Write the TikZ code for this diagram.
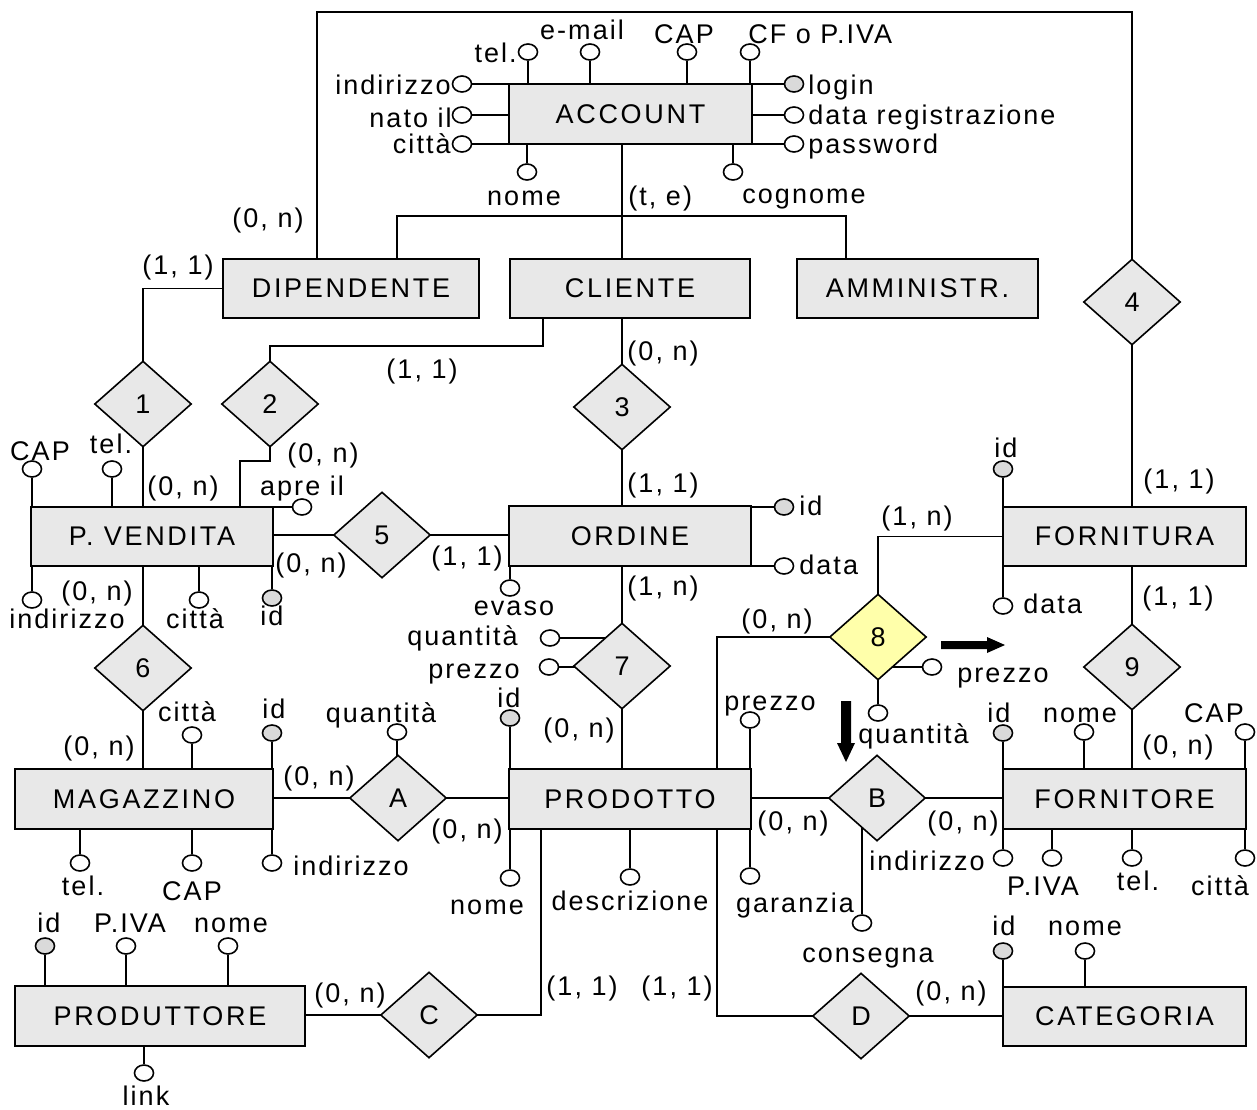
\documentclass[tikz,border=0pt]{standalone}
\usepackage{fontspec}
\setmainfont{Liberation Sans}[LetterSpace=7.5]
\newfontfamily\entfont{Liberation Sans}[LetterSpace=10]
\usetikzlibrary{shapes.geometric,backgrounds}
\definecolor{entgray}{RGB}{232,232,232}
\definecolor{keygray}{RGB}{218,218,218}
\definecolor{relyel}{RGB}{255,255,170}
\tikzset{
 ent/.style={draw,line width=0.9pt,fill=entgray,rectangle,inner sep=0pt,minimum height=30pt,font=\entfont\fontsize{13.5}{16}\selectfont},
 rel/.style={draw,line width=0.8pt,fill=entgray,diamond,inner sep=0pt,minimum width=48.5pt,minimum height=43pt,font=\fontsize{13.5}{16}\selectfont},
 att/.style={draw,line width=0.8pt,fill=white,ellipse,inner sep=0pt,minimum width=9.5pt,minimum height=8pt},
 keyatt/.style={att,fill=keygray},
 lbl/.style={inner sep=0pt,font=\fontsize{13.5}{16}\selectfont},
 conn/.style={line width=0.8pt}
}
\begin{document}
\begin{tikzpicture}[x=0.5pt,y=-0.5pt]
\useasboundingbox (0,0) rectangle (1257,1109);
% ---------- entities
\node[ent,minimum width=121.5pt] (acc) at (630.5,114) {ACCOUNT};
\node[ent,minimum width=128pt,minimum height=29.5pt] (dip) at (351,288.5) {DIPENDENTE};
\node[ent,minimum width=120pt,minimum height=29.5pt] (cli) at (630,288.5) {CLIENTE};
\node[ent,minimum width=120.5pt,minimum height=29.5pt] (amm) at (917.5,288.5) {AMMINISTR.};
\node[ent,minimum width=121pt,minimum height=29.5pt] (pv) at (152,536.5) {P. VENDITA};
\node[ent,minimum width=121pt] (ord) at (630,536) {ORDINE};
\node[ent,minimum width=121.5pt,minimum height=29.5pt] (forn) at (1124.5,536.5) {FORNITURA};
\node[ent,minimum width=129pt] (mag) at (144,799) {MAGAZZINO};
\node[ent,minimum width=121pt] (prod) at (630,799) {PRODOTTO};
\node[ent,minimum width=121.5pt] (fore) at (1124.5,799) {FORNITORE};
\node[ent,minimum width=145pt] (produt) at (160,1016) {PRODUTTORE};
\node[ent,minimum width=121.5pt,minimum height=29.5pt] (cat) at (1124.5,1016.5) {CATEGORIA};
% ---------- relationships
\node[rel] (r1) at (143,404) {1};
\node[rel] (r2) at (270,404) {2};
\node[rel] (r3) at (622,407) {3};
\node[rel] (r4) at (1132,302) {4};
\node[rel] (r5) at (382,535) {5};
\node[rel] (r6) at (143,668) {6};
\node[rel] (r7) at (622,666) {7};
\node[rel,fill=relyel] (r8) at (878,637) {8};
\node[rel] (r9) at (1132,667) {9};
\node[rel] (rA) at (398,798) {A};
\node[rel] (rB) at (877,798) {B};
\node[rel] (rC) at (429,1015) {C};
\node[rel] (rD) at (861,1016) {D};
% ---------- attributes
\node[att] (aTel) at (528,52) {};
\node[att] (aMail) at (590,52) {};
\node[att] (aCap) at (687,52) {};
\node[att] (aCf) at (750,52) {};
\node[att] (aInd) at (462,84) {};
\node[att] (aNato) at (462,115) {};
\node[att] (aCit) at (462,144) {};
\node[keyatt] (aLog) at (794,84) {};
\node[att] (aData) at (794,115) {};
\node[att] (aPwd) at (794,144) {};
\node[att] (aNome) at (527,172) {};
\node[att] (aCogn) at (733,172) {};
\node[att] (pCap) at (32,469) {};
\node[att] (pTel) at (112,469) {};
\node[att] (pApre) at (302,507) {};
\node[att] (pInd) at (32,600) {};
\node[att] (pCit) at (199,600) {};
\node[keyatt] (pId) at (272,598) {};
\node[keyatt] (oId) at (784,507) {};
\node[att] (oData) at (784,566) {};
\node[att] (oEv) at (510,588) {};
\node[att] (q7) at (550,638) {};
\node[att] (p7) at (549,667) {};
\node[att] (p8) at (932,667) {};
\node[att] (q8) at (878,713) {};
\node[att] (qA) at (397,732) {};
\node[att] (cB) at (862,923) {};
\node[keyatt] (dId) at (510,718) {};
\node[att] (dPr) at (750,720) {};
\node[att] (dNome) at (510,878) {};
\node[att] (dDesc) at (630,877) {};
\node[att] (dGar) at (750,876) {};
\node[keyatt] (fId) at (1003,469) {};
\node[att] (fData) at (1003,606) {};
\node[keyatt] (sId) at (1003,733) {};
\node[att] (sNome) at (1084,732) {};
\node[att] (sCap) at (1245,732) {};
\node[att] (sInd) at (1003,858) {};
\node[att] (sPiva) at (1052,858) {};
\node[att] (sTel) at (1132,858) {};
\node[att] (sCit) at (1245,858) {};
\node[att] (mCit) at (192,735) {};
\node[keyatt] (mId) at (272,733) {};
\node[att] (mTel) at (80,863) {};
\node[att] (mCap) at (192,863) {};
\node[att] (mInd) at (272,863) {};
\node[keyatt] (uId) at (45,946) {};
\node[att] (uPiva) at (126,946) {};
\node[att] (uNome) at (228,946) {};
\node[att] (uLink) at (144,1073) {};
\node[keyatt] (cId) at (1003,951) {};
\node[att] (cNome) at (1085,951) {};
% ---------- connectors
\begin{pgfonlayer}{background}
\coordinate (hb) at (622,216);
\coordinate (lt) at (317,12);
\coordinate (k2) at (543,346);
\coordinate (k2b) at (240,461);
\coordinate (x717) at (717,0);
\coordinate (x541) at (541,0);
\coordinate (x397) at (397,0);
\coordinate (x846) at (846,0);
\draw[conn] (acc.center -| hb) -- (cli.center -| hb);
\draw[conn] (dip.center -| x397) |- (hb) -| (amm.center -| x846);
\draw[conn] (dip.center -| lt) -- (lt) -| (r4.center);
\draw[conn] (r4.center) -- (r4.center |- forn.center);
\draw[conn] (dip.center) -| (r1.center);
\draw[conn] (r1.center) -- (r1.center |- pv.center);
\draw[conn] (cli.center -| k2) -- (k2) -| (r2.center);
\draw[conn] (r2.center) |- (k2b) -- (k2b |- pv.center);
\draw[conn] (cli.center -| r3.center) -- (r3.center |- ord.center);
\draw[conn] (r5.center -| pv.center) -- (r5.center -| ord.center);
\draw[conn] (r6.center |- pv.center) -- (r6.center |- mag.center);
\draw[conn] (r7.center |- ord.center) -- (r7.center |- prod.center);
\draw[conn] (r9.center |- forn.center) -- (r9.center |- fore.center);
\draw[conn] (rA.center -| mag.center) -- (rA.center -| prod.center);
\draw[conn] (rB.center -| prod.center) -- (rB.center -| fore.center);
\draw[conn] (r8.center) |- (forn.center);
\draw[conn] (r8.center) -| (prod.center -| x717);
\draw[conn] (prod.center -| x541) |- (rC.center) -- (rC.center -| produt.center);
\draw[conn] (prod.center -| x717) |- (rD.center) -- (rD.center -| cat.center);
\foreach \a/\e in {aInd/acc,aNato/acc,aCit/acc,aLog/acc,aData/acc,aPwd/acc,pApre/pv,oId/ord,oData/ord,q7/r7,p7/r7,p8/r8}
  \draw[conn] (\a) -- (\a -| \e.center);
\foreach \a/\e in {aTel/acc,aMail/acc,aCap/acc,aCf/acc,aNome/acc,aCogn/acc,pCap/pv,pTel/pv,pInd/pv,pCit/pv,pId/pv,oEv/ord,q8/r8,qA/rA,cB/rB,dId/prod,dPr/prod,dNome/prod,dDesc/prod,dGar/prod,fId/forn,fData/forn,sId/fore,sNome/fore,sCap/fore,sInd/fore,sPiva/fore,sTel/fore,sCit/fore,mCit/mag,mId/mag,mTel/mag,mCap/mag,mInd/mag,uId/produt,uPiva/produt,uNome/produt,uLink/produt,cId/cat,cNome/cat}
  \draw[conn] (\a) -- (\a |- \e.center);
\end{pgfonlayer}
% ---------- thick arrows
\fill (941,641) -- (987,641) -- (987,637) -- (1005,645) -- (987,653) -- (987,649) -- (941,649) -- cycle;
\fill (841,701) -- (851,701) -- (851,743) -- (855,743) -- (846,762) -- (837,743) -- (841,743) -- cycle;
% ---------- labels
\node[lbl,anchor=base east] (l1) at (517,62) {tel.};
\node[lbl,anchor=base] (l2) at (582,39) {e-mail};
\node[lbl,anchor=base] (l3) at (684,43) {CAP};
\node[lbl,anchor=base west] (l4) at (748,43) {CF o P.IVA};
\node[lbl,anchor=base east] (l5) at (451,94) {indirizzo};
\node[lbl,anchor=base east] (l6) at (452,127) {nato il};
\node[lbl,anchor=base east] (l7) at (451,153) {città};
\node[lbl,anchor=base west] (l8) at (808,94) {login};
\node[lbl,anchor=base west] (l9) at (808,124) {data registrazione};
\node[lbl,anchor=base west] (l10) at (808,153) {password};
\node[lbl,anchor=base] (l11) at (524,205) {nome};
\node[lbl,anchor=base west] (l12) at (628,205) {(t, e)};
\node[lbl,anchor=base west] (l13) at (742,203) {cognome};
\node[lbl,anchor=base] (l14) at (268,227) {(0, n)};
\node[lbl,anchor=base] (l15) at (178,274) {(1, 1)};
\node[lbl,anchor=base] (l16) at (183,495) {(0, n)};
\node[lbl,anchor=base] (l17) at (323,462) {(0, n)};
\node[lbl,anchor=base] (l18) at (302,495) {apre il};
\node[lbl,anchor=base] (l19) at (422,378) {(1, 1)};
\node[lbl,anchor=base] (l20) at (663,360) {(0, n)};
\node[lbl,anchor=base] (l21) at (663,492) {(1, 1)};
\node[lbl,anchor=base] (l22) at (311,572) {(0, n)};
\node[lbl,anchor=base] (l23) at (467,565) {(1, 1)};
\node[lbl,anchor=base] (l24) at (97,600) {(0, n)};
\node[lbl,anchor=base] (l25) at (67,628) {indirizzo};
\node[lbl,anchor=base] (l26) at (195,628) {città};
\node[lbl,anchor=base] (l27) at (272,625) {id};
\node[lbl,anchor=base] (l28) at (40,460) {CAP};
\node[lbl,anchor=base] (l29) at (111,453) {tel.};
\node[lbl,anchor=base west] (l30) at (799,515) {id};
\node[lbl,anchor=base west] (l31) at (799,574) {data};
\node[lbl,anchor=base] (l32) at (663,595) {(1, n)};
\node[lbl,anchor=base] (l33) at (514,615) {evaso};
\node[lbl,anchor=base east] (l34) at (518,645) {quantità};
\node[lbl,anchor=base east] (l35) at (520,678) {prezzo};
\node[lbl,anchor=base] (l36) at (509,707) {id};
\node[lbl,anchor=base] (l37) at (579,737) {(0, n)};
\node[lbl,anchor=base] (l38) at (381,722) {quantità};
\node[lbl,anchor=base] (l39) at (917,525) {(1, n)};
\node[lbl,anchor=base] (l40) at (777,628) {(0, n)};
\node[lbl,anchor=base west] (l41) at (957,682) {prezzo};
\node[lbl,anchor=base west] (l42) at (858,743) {quantità};
\node[lbl,anchor=base] (l43) at (770,710) {prezzo};
\node[lbl,anchor=base] (l44) at (1179,488) {(1, 1)};
\node[lbl,anchor=base] (l45) at (1006,457) {id};
\node[lbl,anchor=base west] (l46) at (1023,613) {data};
\node[lbl,anchor=base] (l47) at (1178,605) {(1, 1)};
\node[lbl,anchor=base] (l48) at (1178,754) {(0, n)};
\node[lbl,anchor=base] (l49) at (999,722) {id};
\node[lbl,anchor=base] (l50) at (1080,722) {nome};
\node[lbl,anchor=base] (l51) at (1214,722) {CAP};
\node[lbl,anchor=base east] (l52) at (985,870) {indirizzo};
\node[lbl,anchor=base] (l53) at (1043,895) {P.IVA};
\node[lbl,anchor=base] (l54) at (1138,890) {tel.};
\node[lbl,anchor=base] (l55) at (1220,895) {città};
\node[lbl,anchor=base] (l56) at (963,830) {(0, n)};
\node[lbl,anchor=base] (l57) at (793,830) {(0, n)};
\node[lbl,anchor=base] (l58) at (868,962) {consegna};
\node[lbl,anchor=base] (l59) at (795,912) {garanzia};
\node[lbl,anchor=base] (l60) at (630,910) {descrizione};
\node[lbl,anchor=base] (l61) at (487,914) {nome};
\node[lbl,anchor=base] (l62) at (582,995) {(1, 1)};
\node[lbl,anchor=base] (l63) at (677,995) {(1, 1)};
\node[lbl,anchor=base] (l64) at (951,1000) {(0, n)};
\node[lbl,anchor=base] (l65) at (1004,935) {id};
\node[lbl,anchor=base] (l66) at (1085,935) {nome};
\node[lbl,anchor=base] (l67) at (99,755) {(0, n)};
\node[lbl,anchor=base] (l68) at (187,721) {città};
\node[lbl,anchor=base] (l69) at (274,718) {id};
\node[lbl,anchor=base] (l70) at (319,785) {(0, n)};
\node[lbl,anchor=base] (l71) at (467,838) {(0, n)};
\node[lbl,anchor=base] (l72) at (83,895) {tel.};
\node[lbl,anchor=base] (l73) at (192,900) {CAP};
\node[lbl,anchor=base west] (l74) at (293,875) {indirizzo};
\node[lbl,anchor=base] (l75) at (49,932) {id};
\node[lbl,anchor=base] (l76) at (130,932) {P.IVA};
\node[lbl,anchor=base] (l77) at (231,932) {nome};
\node[lbl,anchor=base] (l78) at (350,1002) {(0, n)};
\node[lbl,anchor=base] (l79) at (146,1105) {link};
\end{tikzpicture}
\end{document}
